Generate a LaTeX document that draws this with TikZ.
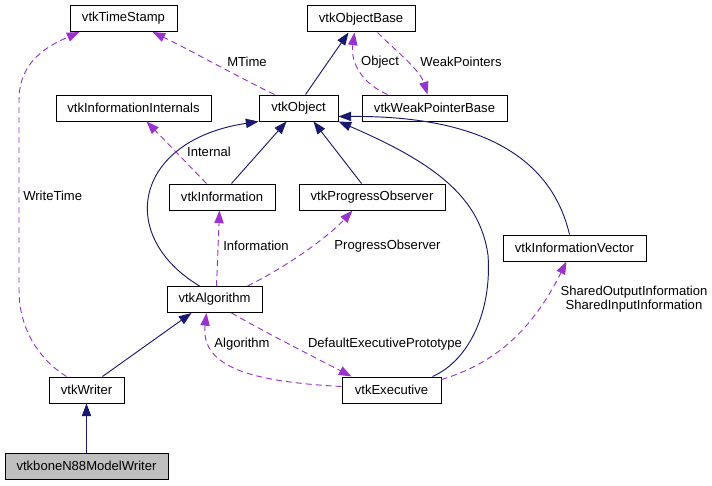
\documentclass[tikz,border=0pt]{standalone}
\usepackage{fontspec}
\setmainfont{Liberation Sans}
\usetikzlibrary{arrows.meta,calc}
\definecolor{navy}{HTML}{191970}
\definecolor{orch}{HTML}{9A32CD}
\definecolor{gbox}{HTML}{BFBFBF}
\begin{document}
\begin{tikzpicture}[x=0.75pt,y=-0.75pt,
  every node/.style={font=\fontsize{9.8}{11}\selectfont},
  box/.style={draw=black,line width=0.75pt,fill=white,inner sep=0pt,minimum height=19.5pt},
  bw/.style={minimum width=#1*0.75pt},
  inh/.style={draw=navy,line width=0.7pt,-{Triangle[length=9.5pt,width=7pt]}},
  use/.style={draw=orch,line width=0.7pt,dash pattern=on 4.5pt off 3pt,-{Triangle[length=9.5pt,width=7pt]}},
  lbl/.style={inner sep=0pt}]
\useasboundingbox (0,0) rectangle (712,485);
% nodes
\node[box,bw=107] (TS) at (123.5,18.5) {vtkTimeStamp};
\node[box,bw=108] (OB) at (361,19) {vtkObjectBase};
\node[box,bw=155] (II) at (133.5,108) {vtkInformationInternals};
\node[box,bw=79] (Obj) at (298.5,108) {vtkObject};
\node[box,bw=145] (WPB) at (434.5,108) {vtkWeakPointerBase};
\node[box,bw=106] (Info) at (222,197) {vtkInformation};
\node[box,bw=146] (PO) at (372,197) {vtkProgressObserver};
\node[box,bw=143] (IV) at (574.5,248) {vtkInformationVector};
\node[box,bw=95] (Alg) at (214.5,299.5) {vtkAlgorithm};
\node[box,bw=75] (Wr) at (86.5,390) {vtkWriter};
\node[box,bw=99] (Ex) at (391.5,390) {vtkExecutive};
\node[box,bw=163,fill=gbox] (N88) at (86.5,466) {vtkboneN88ModelWriter};
% labels
\node[lbl] (lObject) at (380,62) {Object};
\node[lbl] (lWeak) at (461,62) {WeakPointers};
\node[lbl] (lMTime) at (247,62) {MTime};
\node[lbl,anchor=west] (lWrite) at (23,196) {WriteTime};
\node[lbl] (lInternal) at (209,152) {Internal};
\node[lbl] (lInfo) at (256,246) {Information};
\node[lbl] (lPO) at (387.5,246) {ProgressObserver};
\node[lbl] (lAlg) at (242,344) {Algorithm};
\node[lbl] (lDEP) at (385,344) {DefaultExecutivePrototype};
\node[lbl,align=center] (lShared) at (634,299) {SharedOutputInformation\\SharedInputInformation};
% inheritance edges
\draw[inh] ($(Obj.north west)+(47,0)$) -- ($(OB.south west)+(42,0)$);
\draw[inh] ($(Info.north west)+(63,0)$) -- ($(Obj.south west)+(28,0)$);
\draw[inh] ($(PO.north west)+(63,0)$) -- ($(Obj.south west)+(55,0)$);
\draw[inh] ($(Alg.north west)+(33,0)$) .. controls (115,235) and (135,140) .. (Obj.south west);
\draw[inh] ($(Ex.north west)+(91,0)$) .. controls (470,360) and (492,310) .. (488,255)
   .. controls (480,200) and (440,165) .. (Obj.south east);
\draw[inh] ($(IV.north west)+(67,0)$) .. controls (545,130) and (430,116) .. ($(Obj.north east)+(0,22)$);
\draw[inh] ($(Wr.north west)+(54,0)$) -- ($(Alg.south west)+(25,0)$);
\draw[inh] (N88.north) -- (Wr.south);
% usage edges
\draw[use] ($(WPB.north west)+(26,0)$) .. controls (365,85) and (350,65) .. ($(OB.south west)+(48,0)$);
\draw[use] ($(OB.south west)+(71,0)$) .. controls (395,50) and (420,70) .. ($(WPB.north west)+(66,0)$);
\draw[use] ($(Obj.north west)+(16,0)$) .. controls (240,78) and (190,50) .. ($(TS.south west)+(83,0)$);
\draw[use] ($(Wr.north west)+(18,0)$) .. controls (40,360) and (19,330) .. (19,290) -- (19,100)
   .. controls (19,60) and (50,45) .. ($(TS.south west)+(10,0)$);
\draw[use] ($(Info.north west)+(38,0)$) -- ($(II.south west)+(91,0)$);
\draw[use] ($(Alg.north west)+(50,0)$) -- ($(Info.south west)+(51,0)$);
\draw[use] ($(Alg.north west)+(81,0)$) .. controls (290,265) and (330,235) .. ($(PO.south west)+(54,0)$);
\draw[use] ($(Ex.north west)+(0,10)$) .. controls (260,382) and (200,370) .. ($(Alg.south west)+(40,0)$);
\draw[use] ($(Alg.south west)+(65,0)$) .. controls (270,335) and (320,360) .. ($(Ex.north west)+(10,0)$);
\draw[use] ($(Ex.north east)+(0,3)$) .. controls (490,365) and (530,335) .. ($(IV.south west)+(64,0)$);
\end{tikzpicture}
\end{document}
